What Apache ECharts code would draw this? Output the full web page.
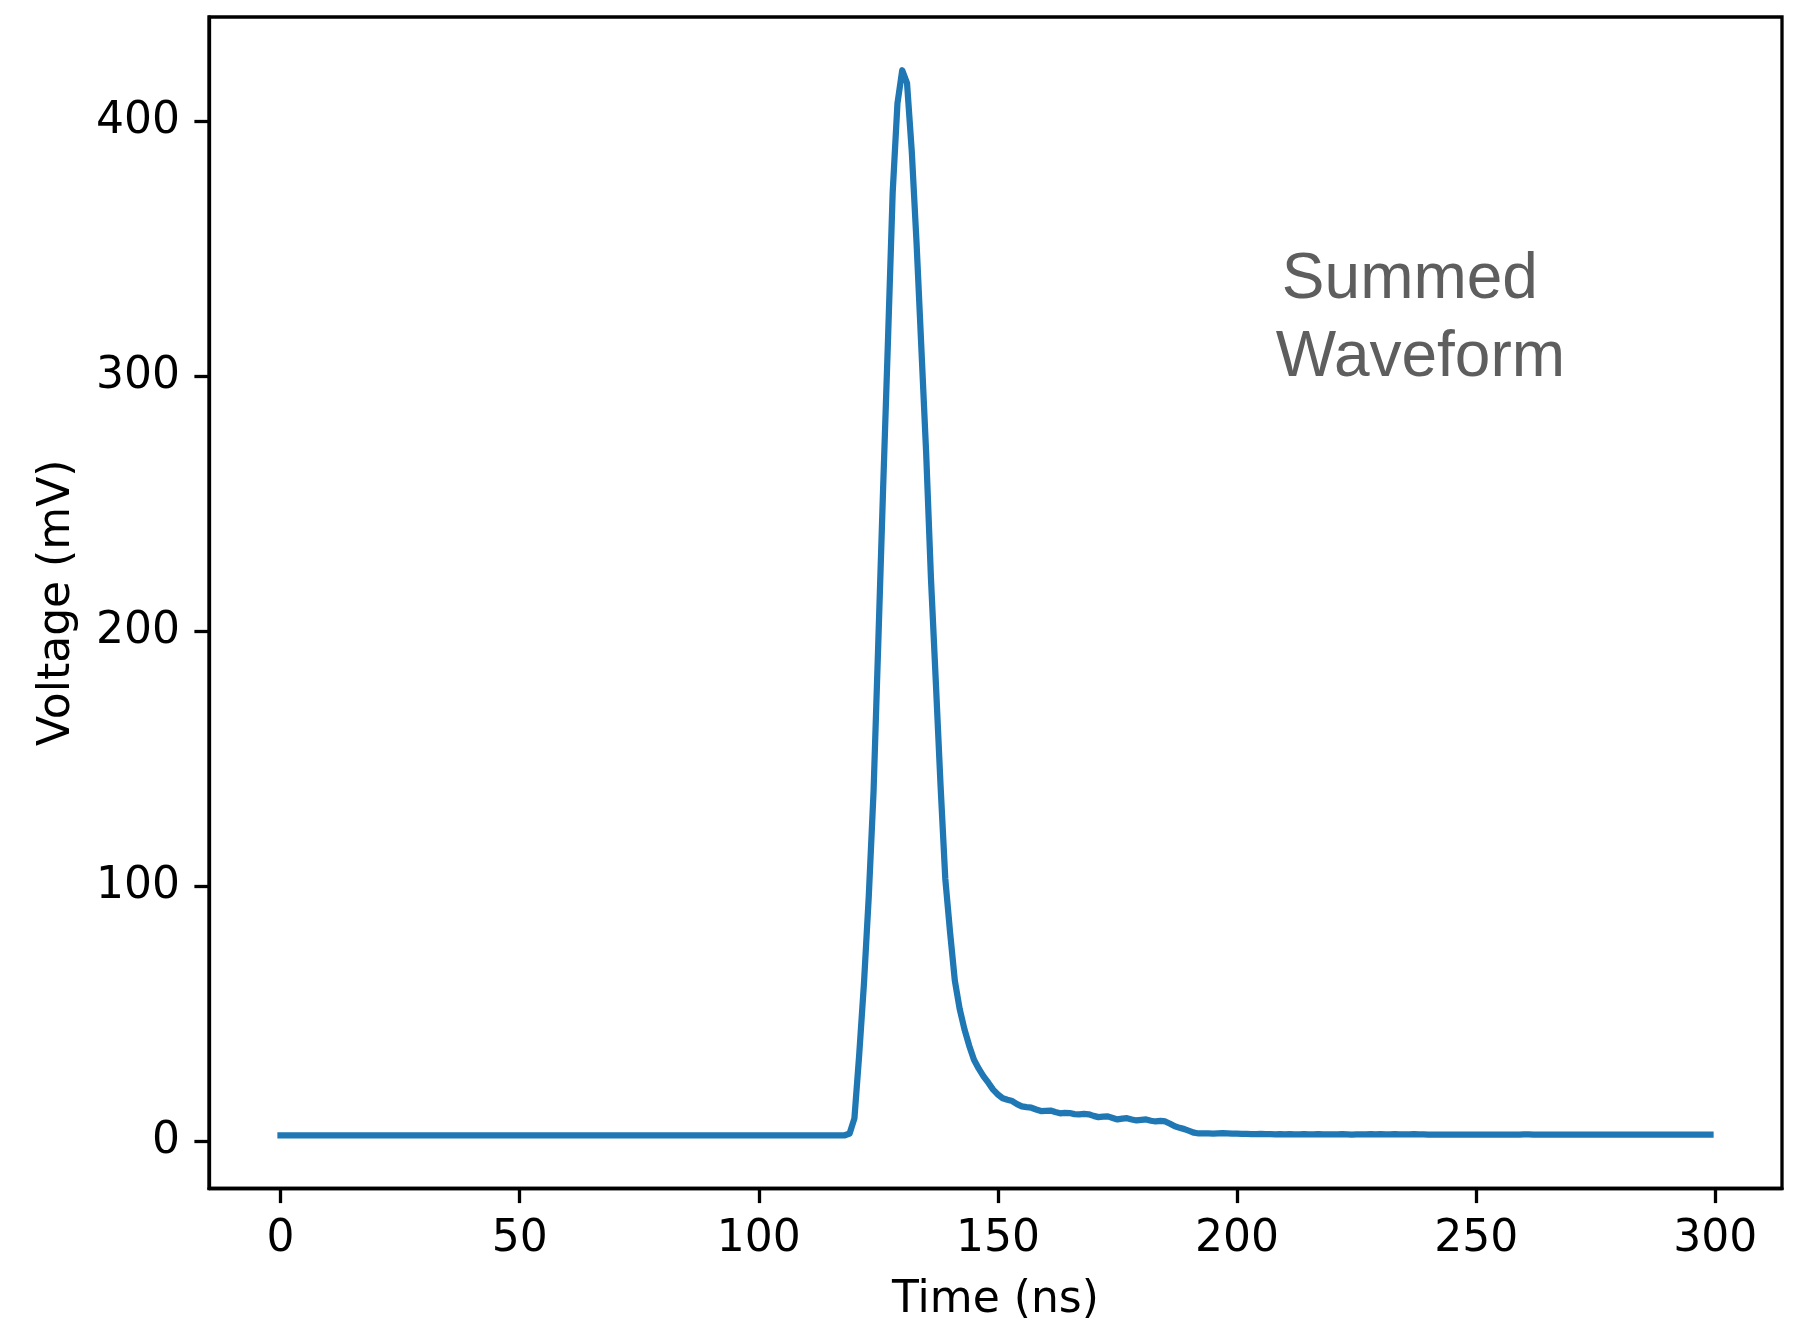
<!DOCTYPE html>
<html>
<head>
<meta charset="utf-8">
<title>Summed Waveform</title>
<script src="https://cdn.jsdelivr.net/npm/echarts@6/dist/echarts.min.js"></script>
<style>
  html, body { margin: 0; padding: 0; background: #ffffff; }
  #chart { width: 1804px; height: 1320px; }
</style>
</head>
<body>
<div id="chart"></div>
<script>
// Summed detector waveform, sampled every nanosecond.
const sampleStepNs = 1;

const voltageMv = [
  // 0 - 118 ns: flat pedestal before the pulse
  2.4, 2.4, 2.4, 2.4, 2.4, 2.4, 2.4, 2.4, 2.4, 2.4,
  2.4, 2.4, 2.4, 2.4, 2.4, 2.4, 2.4, 2.4, 2.4, 2.4,
  2.4, 2.4, 2.4, 2.4, 2.4, 2.4, 2.4, 2.4, 2.4, 2.4,
  2.4, 2.4, 2.4, 2.4, 2.4, 2.4, 2.4, 2.4, 2.4, 2.4,
  2.4, 2.4, 2.4, 2.4, 2.4, 2.4, 2.4, 2.4, 2.4, 2.4,
  2.4, 2.4, 2.4, 2.4, 2.4, 2.4, 2.4, 2.4, 2.4, 2.4,
  2.4, 2.4, 2.4, 2.4, 2.4, 2.4, 2.4, 2.4, 2.4, 2.4,
  2.4, 2.4, 2.4, 2.4, 2.4, 2.4, 2.4, 2.4, 2.4, 2.4,
  2.4, 2.4, 2.4, 2.4, 2.4, 2.4, 2.4, 2.4, 2.4, 2.4,
  2.4, 2.4, 2.4, 2.4, 2.4, 2.4, 2.4, 2.4, 2.4, 2.4,
  2.4, 2.4, 2.4, 2.4, 2.4, 2.4, 2.4, 2.4, 2.4, 2.4,
  2.4, 2.4, 2.4, 2.4, 2.4, 2.4, 2.4, 2.4, 2.4,
  // 119 - 141 ns: pulse
  3.1, 9, 34, 62, 96, 137, 196, 256, 313, 372,
  407, 420, 415, 388, 352, 311, 270, 221, 181, 140,
  103, 82, 63,
  // 142 - 199 ns: decay tail
  52, 44, 37.5, 32, 28.5, 25.5, 23, 20.3, 18.4, 16.9,
  16.3, 15.8, 14.6, 13.7, 13.4, 13.2, 12.5, 11.9, 12.0, 12.1,
  11.5, 11.0, 11.2, 11.1, 10.7, 10.6, 10.8, 10.6, 10.0, 9.5,
  9.7, 9.8, 9.2, 8.6, 8.9, 9.1, 8.6, 8.2, 8.4, 8.6,
  8.1, 7.8, 8.0, 7.8, 6.9, 5.9, 5.3, 4.8, 4.1, 3.4,
  3.1, 3.1, 3.1, 3.0, 3.1, 3.2, 3.1, 3.0,
  // 200 - 299 ns: back on the pedestal
  3.0, 2.9, 2.9, 2.8, 2.8, 2.9, 2.8, 2.8, 2.7, 2.8,
  2.7, 2.8, 2.7, 2.7, 2.8, 2.7, 2.7, 2.8, 2.7, 2.7,
  2.7, 2.7, 2.8, 2.7, 2.6, 2.7, 2.7, 2.7, 2.8, 2.7,
  2.8, 2.7, 2.7, 2.8, 2.7, 2.7, 2.7, 2.8, 2.7, 2.7,
  2.6, 2.6, 2.6, 2.6, 2.6, 2.6, 2.6, 2.6, 2.6, 2.6,
  2.6, 2.6, 2.6, 2.6, 2.6, 2.6, 2.6, 2.6, 2.6, 2.6,
  2.7, 2.7, 2.6, 2.6, 2.6, 2.6, 2.6, 2.6, 2.6, 2.6,
  2.6, 2.6, 2.6, 2.6, 2.6, 2.6, 2.6, 2.6, 2.6, 2.6,
  2.6, 2.6, 2.6, 2.6, 2.6, 2.6, 2.6, 2.6, 2.6, 2.6,
  2.6, 2.6, 2.6, 2.6, 2.6, 2.6, 2.6, 2.6, 2.6, 2.6
];

const timeNs = voltageMv.map((_, i) => i * sampleStepNs);

const xTickValues = [0, 50, 100, 150, 200, 250, 300];
const yTickValues = [0, 100, 200, 300, 400];

const xAxisTitle = 'Time (ns)';
const yAxisTitle = 'Voltage (mV)';

const noteLines = ['Summed', 'Waveform'];
const noteAnchor = [210, 300]; // data coords where the note starts (last line baseline)

// Axis limits with a 5% margin around the data extent.
function paddedExtent(values, frac) {
  const lo = Math.min(...values), hi = Math.max(...values);
  const pad = (hi - lo) * frac;
  return [lo - pad, hi + pad];
}
const xExtent = paddedExtent(timeNs, 0.05);
const yExtent = paddedExtent(voltageMv, 0.05);

const tickFont = 'DejaVu Sans';
const tickSize = 44;
const spine = 3.3;

const chart = echarts.init(document.getElementById('chart'), null, { renderer: 'canvas' });

const axisCommon = {
  type: 'value',
  splitLine: { show: false },
  axisLine: { show: true, onZero: false, lineStyle: { color: '#000', width: spine } },
  axisTick: { show: true, inside: false, length: 14.6, lineStyle: { color: '#000', width: spine } },
  nameLocation: 'middle',
  nameTextStyle: { fontFamily: tickFont, fontSize: tickSize, color: '#000' }
};

chart.setOption({
  animation: false,
  backgroundColor: '#ffffff',
  grid: {
    left: 209, right: 22, top: 17, bottom: 131.5,
    outerBoundsMode: 'none',
    containLabel: false,
    show: true, borderColor: '#000', borderWidth: spine
  },
  xAxis: Object.assign({}, axisCommon, {
    min: xExtent[0], max: xExtent[1],
    name: xAxisTitle, nameGap: 90,
    axisTick: Object.assign({}, axisCommon.axisTick, { customValues: xTickValues }),
    axisLabel: {
      customValues: xTickValues, margin: 29,
      fontFamily: tickFont, fontSize: tickSize, color: '#000'
    }
  }),
  yAxis: Object.assign({}, axisCommon, {
    min: yExtent[0], max: yExtent[1],
    name: yAxisTitle, nameGap: 129,
    axisTick: Object.assign({}, axisCommon.axisTick, { customValues: yTickValues }),
    axisLabel: {
      customValues: yTickValues, margin: 29,
      fontFamily: tickFont, fontSize: tickSize, color: '#000'
    }
  }),
  series: [{
    type: 'line',
    data: timeNs.map((t, i) => [t, voltageMv[i]]),
    showSymbol: false,
    symbol: 'none',
    lineStyle: { color: '#1f77b4', width: 6.25, cap: 'square', join: 'round' },
    z: 3
  }]
});

// Two-line text note placed in data coordinates.
const anchorPx = chart.convertToPixel({ gridIndex: 0 }, noteAnchor);
const noteFont = '64px "Liberation Sans", Arial, sans-serif';
const noteColor = '#5e5e5e';
const lineStep = 78;
chart.setOption({
  graphic: noteLines.map((line, i) => ({
    type: 'text',
    z: 10,
    style: {
      x: anchorPx[0] - 9 + (i === 0 ? 6 : 0),
      y: anchorPx[1] + 14 - (noteLines.length - 1 - i) * lineStep,
      text: line,
      font: noteFont,
      fill: noteColor,
      textAlign: 'left',
      textVerticalAlign: 'bottom'
    }
  }))
});
</script>
</body>
</html>
